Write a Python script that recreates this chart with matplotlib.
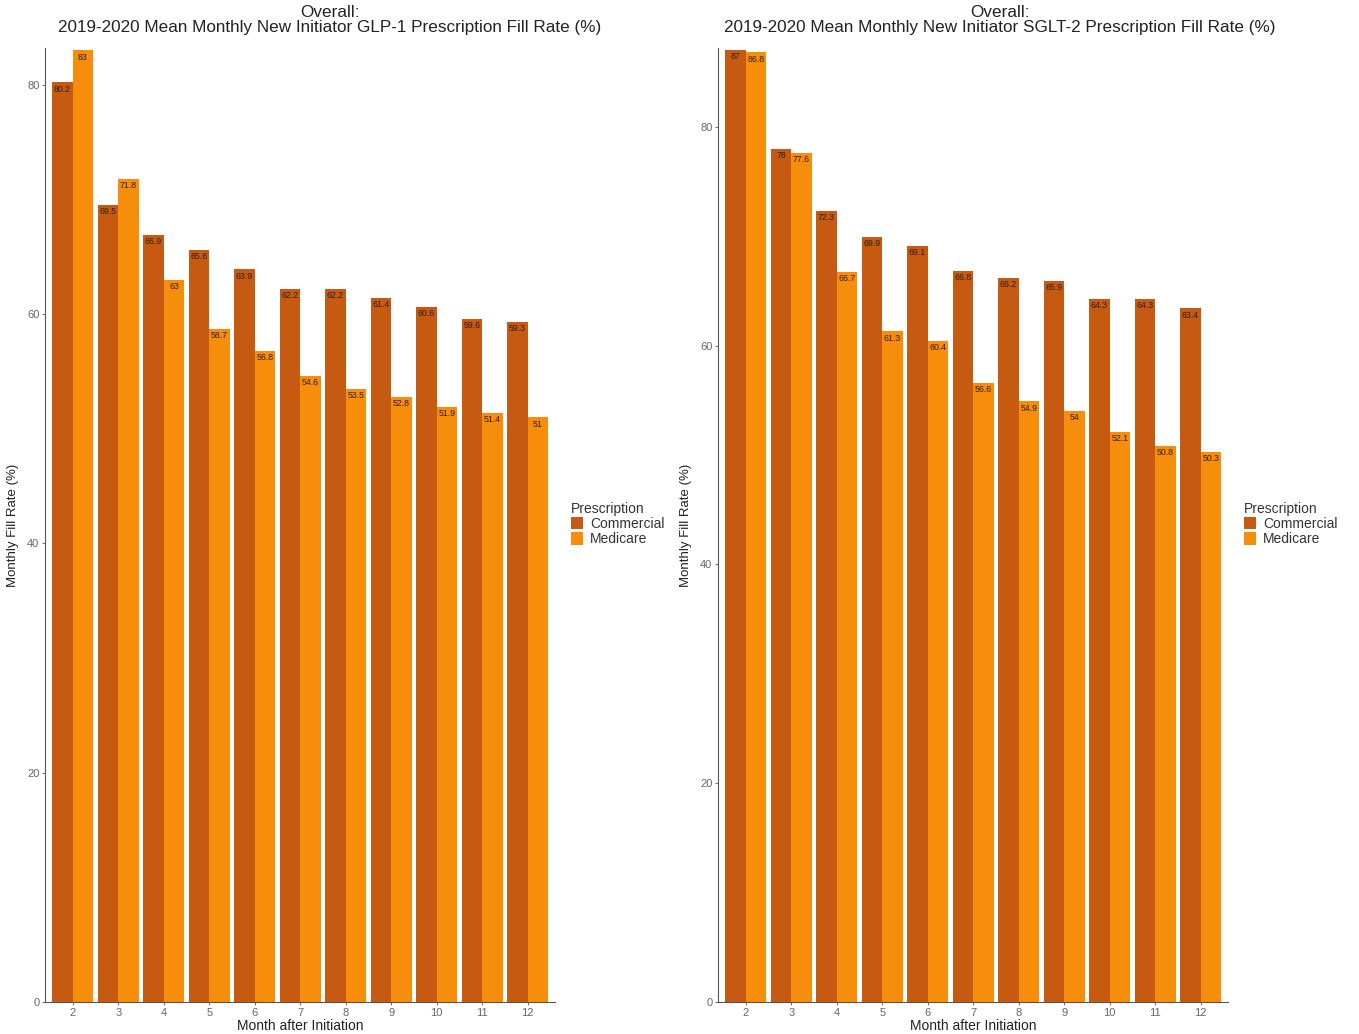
import numpy as np
import matplotlib
matplotlib.use("Agg")
import matplotlib.pyplot as plt

plt.rcParams["font.family"] = ["Liberation Sans", "DejaVu Sans"]

months = [2, 3, 4, 5, 6, 7, 8, 9, 10, 11, 12]
groups = ["Commercial", "Medicare"]

glp1_commercial = [80.2, 69.5, 66.9, 65.6, 63.9, 62.2, 62.2, 61.4, 60.6, 59.6, 59.3]
glp1_medicare = [83.0, 71.8, 63.0, 58.7, 56.8, 54.6, 53.5, 52.8, 51.9, 51.4, 51.0]

sglt2_commercial = [87.0, 78.0, 72.3, 69.9, 69.1, 66.8, 66.2, 65.9, 64.3, 64.3, 63.4]
sglt2_medicare = [86.8, 77.6, 66.7, 61.3, 60.4, 56.6, 54.9, 54.0, 52.1, 50.8, 50.3]

titles = [
    "Overall:\n2019-2020 Mean Monthly New Initiator GLP-1 Prescription Fill Rate (%)",
    "Overall:\n2019-2020 Mean Monthly New Initiator SGLT-2 Prescription Fill Rate (%)",
]

colors = {"Commercial": "#C65A10", "Medicare": "#F68E0C"}
W, H = 1359, 1034


def fmt(v):
    return f"{v:g}"


def draw_panel(fig, left_px, title_px, commercial, medicare, title, ytop):
    ax = fig.add_axes([left_px / W, 32 / H, 510 / W, 954 / H])
    x = np.array(months, dtype=float)
    bw = 0.45
    for vals, off, name in [(commercial, -bw / 2, "Commercial"), (medicare, bw / 2, "Medicare")]:
        bars = ax.bar(x + off, vals, width=bw, color=colors[name], label=name)
        for b, v in zip(bars, vals):
            ax.text(b.get_x() + b.get_width() / 2, v - 0.2, fmt(v), ha="center", va="top",
                    fontsize=6.3, color="#2e1f0c")
    ax.set_xlim(1.39, 12.6)
    ax.set_ylim(0, ytop)
    ax.set_xticks(months)
    ax.set_yticks([0, 20, 40, 60, 80])
    ax.tick_params(axis="both", length=2, color="#777777", labelsize=8, labelcolor="#666666", pad=2)
    for s in ["top", "right"]:
        ax.spines[s].set_visible(False)
    for s in ["left", "bottom"]:
        ax.spines[s].set_color("#555555")
        ax.spines[s].set_linewidth(0.8)
    ax.set_xlabel("Month after Initiation", fontsize=10, labelpad=1, color="#222222")
    ax.set_ylabel("Monthly Fill Rate (%)", fontsize=9.5, labelpad=6, color="#222222")
    fig.text(title_px / W, 1 - 5 / H, title, ha="center", va="top", fontsize=12.3,
             color="#222222", linespacing=1.0)
    leg = ax.legend(title="Prescription", loc="upper left",
                    bbox_to_anchor=((left_px + 520) / W, 1 - 496 / H),
                    bbox_transform=fig.transFigure, frameon=False, fontsize=10,
                    title_fontsize=10, handlelength=0.9, handleheight=1.0,
                    handletextpad=0.5, labelspacing=0.1, borderaxespad=0)
    leg._legend_box.align = "left"
    for t in leg.get_texts():
        t.set_color("#333333")
    leg.get_title().set_color("#333333")
    return ax


fig = plt.figure(figsize=(W / 100, H / 100), dpi=100)
draw_panel(fig, 45, 330, glp1_commercial, glp1_medicare, titles[0], 83.2)
draw_panel(fig, 718, 1000, sglt2_commercial, sglt2_medicare, titles[1], 87.2)
fig.savefig("out.png", dpi=100)
